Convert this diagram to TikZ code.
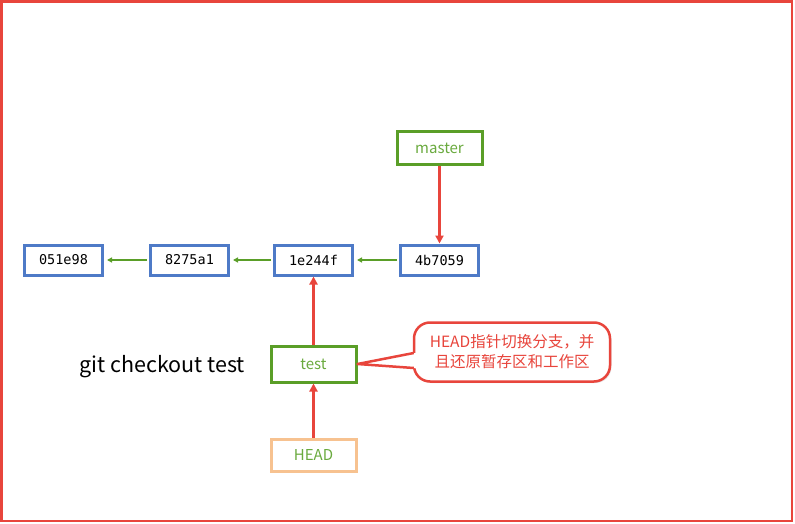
\documentclass[tikz,border=0pt]{standalone}
\usepackage{fontspec}
\usepackage{tikz}
\usetikzlibrary{arrows.meta,positioning,shadows}
\newfontfamily\cjkfont{Noto Sans CJK SC}
\newfontfamily\hashfont{DejaVu Sans Mono}
\definecolor{commitblue}{HTML}{4E7AC7}
\definecolor{branchgreen}{HTML}{5A9E28}
\definecolor{labelgreen}{HTML}{6AAA3E}
\definecolor{headorange}{HTML}{F7C290}
\definecolor{pointred}{HTML}{E8453C}

\begin{document}
\begin{tikzpicture}[
  x=1pt, y=1pt,
  commit/.style={draw=commitblue, line width=3pt, fill=white, minimum width=78pt, minimum height=30pt, font=\hashfont\fontsize{13.5}{15}\selectfont, drop shadow={shadow xshift=1.5pt, shadow yshift=-1.5pt, fill=black!20}},
  branch/.style={draw=branchgreen, line width=3pt, fill=white, minimum width=85pt, minimum height=32pt, text=labelgreen, font=\cjkfont\fontsize{15}{17}\selectfont, drop shadow={shadow xshift=1.5pt, shadow yshift=-1.5pt, fill=black!20}},
  headbox/.style={branch, draw=headorange},
  parent/.style={-{Triangle[length=5pt, width=5pt]}, line width=1.3pt, branchgreen},
  ref/.style={-{Triangle[length=8pt, width=8pt]}, line width=2.2pt, pointred},
  note/.style={rounded corners=16pt, draw=pointred, line width=2.5pt, fill=white, text=pointred, align=center, minimum width=196pt, minimum height=59pt, font=\cjkfont\fontsize{15.5}{20}\selectfont, drop shadow={shadow xshift=1.5pt, shadow yshift=-1.5pt, fill=black!20}},
  pointer/.style={draw=pointred, line width=2.5pt, line join=round}
]
  \useasboundingbox (0,0) rectangle (795,-524);
  \draw[pointred, line width=2.5pt] (1.5,-1.5) rectangle (792,-521);

  \node[commit] (c051e98) at (63.5,-260) {051e98};
  \node[commit, right=45pt of c051e98] (c8275a1) {8275a1};
  \node[commit, right=43pt of c8275a1] (c1e244f) {1e244f};
  \node[commit, right=45pt of c1e244f] (c4b7059) {4b7059};
  \node[branch, above=78pt of c4b7059] (master) {master};
  \node[branch, below=68pt of c1e244f, minimum height=36pt] (test) {test};
  \node[headbox, below=54pt of test] (head) {HEAD};
  \node[left=21pt of test, yshift=-3pt, font=\cjkfont\fontsize{21.5}{24}\selectfont] (cmd) {git checkout test};
  \node[note] (tip) at (512,-352) {HEAD指针切换分支，并\\且还原暂存区和工作区};

  % speech pointer from the note to the branch
  \fill[white] ([shift={(4pt,-1pt)}]tip.west) -- ([yshift=-1pt]tip.west) -- (test.east) -- ([yshift=-16pt]tip.west) -- ([shift={(4pt,-16pt)}]tip.west) -- cycle;
  \draw[pointer] ([shift={(1pt,-1pt)}]tip.west) -- (test.east) -- ([shift={(1pt,-16pt)}]tip.west);

  \draw[parent] ([xshift=-2pt]c4b7059.west) -- ([xshift=3pt]c1e244f.east);
  \draw[parent] ([xshift=-2pt]c1e244f.west) -- ([xshift=3pt]c8275a1.east);
  \draw[parent] ([xshift=-2pt]c8275a1.west) -- ([xshift=3pt]c051e98.east);
  \draw[ref] (master) -- (c4b7059);
  \draw[ref] (test) -- (c1e244f);
  \draw[ref] (head) -- (test);
\end{tikzpicture}
\end{document}
